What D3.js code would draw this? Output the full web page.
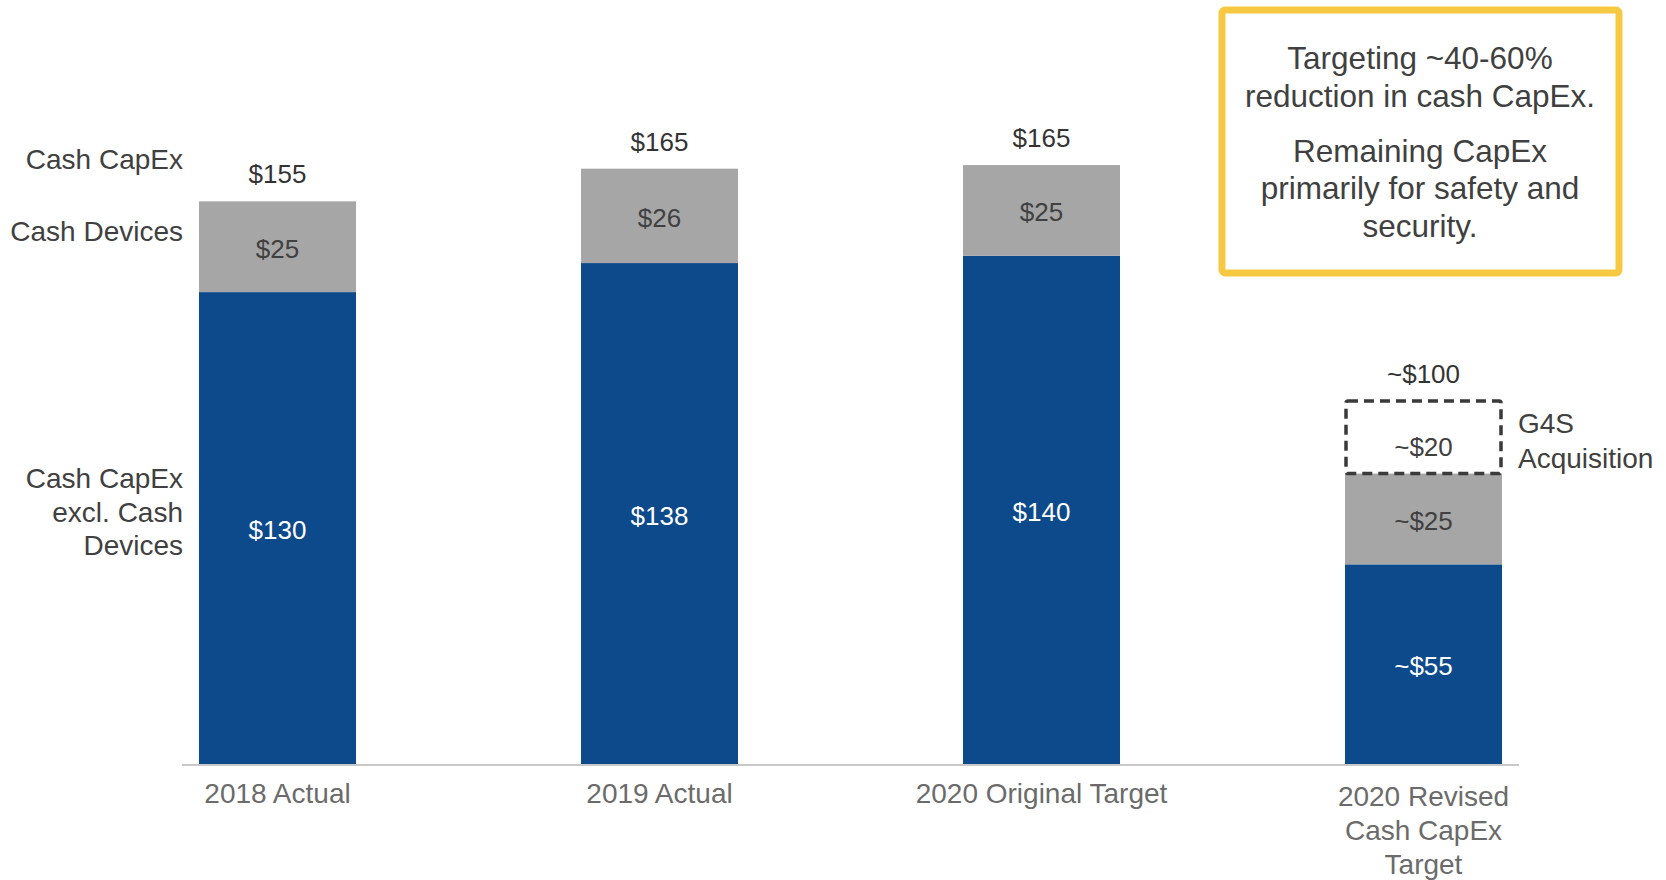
<!DOCTYPE html>
<html>
<head>
<meta charset="utf-8">
<script src="https://cdn.jsdelivr.net/npm/d3@7"></script>
<style>
  body { margin: 0; background: #fff; }
  text { font-family: "Liberation Sans", Arial, sans-serif; }
</style>
</head>
<body>
<div id="chart_area"></div>
<script>
// data
var categories = ["2018 Actual", "2019 Actual", "2020 Original Target", "2020 Revised Cash CapEx Target"];
var categoryLines = [["2018 Actual"], ["2019 Actual"], ["2020 Original Target"], ["2020 Revised", "Cash CapEx", "Target"]];
var exclDevices = [130, 138, 140, 55];
var cashDevices = [25, 26, 25, 25];
var g4sAcq = [0, 0, 0, 20];
var totalLabels = ["$155", "$165", "$165", "~$100"];
var exclLabels = ["$130", "$138", "$140", "~$55"];
var deviceLabels = ["$25", "$26", "$25", "~$25"];
var g4sLabels = ["", "", "", "~$20"];

//frame
var sFrameWidth = 1666;
var sFrameHeight = 880;
var sFrame = d3.select("#chart_area").append("svg")
  .attr("width", sFrameWidth)
  .attr("height", sFrameHeight);

var rows = categories.map(function (c, i) {
  return { cat: c, excl: exclDevices[i], dev: cashDevices[i], g4s: g4sAcq[i], i: i };
});
var stack = d3.stack().keys(["excl", "dev", "g4s"]);
var layers = stack(rows);

//scales
var x = d3.scaleBand().domain(categories).range([86.5, 1614.5]).paddingInner(0.589).paddingOuter(0.2945);
var y = d3.scaleLinear().domain([0, 200]).range([764, 38]);

var fills = { excl: "#0C4A8C", dev: "#A6A6A6" };

// solid segments
["excl", "dev"].forEach(function (k, li) {
  sFrame.append("g").selectAll("rect")
    .data(layers[li])
    .enter().append("rect")
    .attr("x", function (d) { return x(d.data.cat); })
    .attr("width", x.bandwidth())
    .attr("y", function (d) { return y(d[1]); })
    .attr("height", function (d) { return y(d[0]) - y(d[1]); })
    .attr("fill", fills[k]);
});

// dashed G4S box
sFrame.append("g").selectAll("rect")
  .data(layers[2].filter(function (d) { return d[1] > d[0]; }))
  .enter().append("rect")
  .attr("x", function (d) { return x(d.data.cat) + 1; })
  .attr("width", x.bandwidth() - 2)
  .attr("y", function (d) { return y(d[1]); })
  .attr("height", function (d) { return y(d[0]) - y(d[1]); })
  .attr("fill", "none")
  .attr("stroke", "#3a3a3a")
  .attr("stroke-width", 3.5)
  .attr("stroke-dasharray", "10,6")
  .attr("rx", 2);

// baseline
sFrame.append("line")
  .attr("x1", 182).attr("x2", 1519)
  .attr("y1", y(0) + 1).attr("y2", y(0) + 1)
  .attr("stroke", "#c8c8c8").attr("stroke-width", 2);

// segment labels
function segLabels(layer, labels, color, dy) {
  sFrame.append("g").selectAll("text")
    .data(layer)
    .enter().append("text")
    .attr("x", function (d) { return x(d.data.cat) + x.bandwidth() / 2; })
    .attr("y", function (d) { return (y(d[0]) + y(d[1])) / 2 + dy; })
    .attr("text-anchor", "middle")
    .attr("font-size", 26)
    .attr("fill", color)
    .text(function (d, i) { return labels[i]; });
}
segLabels(layers[0], exclLabels, "#ffffff", 11);
segLabels(layers[1], deviceLabels, "#404040", 11);
segLabels(layers[2], g4sLabels, "#404040", 19);

// totals
sFrame.append("g").selectAll("text")
  .data(layers[2])
  .enter().append("text")
  .attr("x", function (d) { return x(d.data.cat) + x.bandwidth() / 2; })
  .attr("y", function (d) { return y(d[1]) - 18; })
  .attr("text-anchor", "middle")
  .attr("font-size", 26)
  .attr("fill", "#333333")
  .text(function (d, i) { return totalLabels[i]; });

// category labels
var catG = sFrame.append("g").selectAll("text")
  .data(categories)
  .enter().append("text")
  .attr("x", function (d) { return x(d) + x.bandwidth() / 2; })
  .attr("y", 803)
  .attr("text-anchor", "middle")
  .attr("font-size", 28)
  .attr("fill", "#6b6b6b");
catG.each(function (d, i) {
  var t = d3.select(this);
  categoryLines[i].forEach(function (line, j) {
    t.append("tspan")
      .attr("x", x(d) + x.bandwidth() / 2)
      .attr("dy", j === 0 ? (categoryLines[i].length > 1 ? 3 : 0) : 34)
      .text(line);
  });
});

// left series labels
var leftX = 183;
var leftLabels = [
  { lines: ["Cash CapEx"], y: y(164) },
  { lines: ["Cash Devices"], y: y(144) },
  { lines: ["Cash CapEx", "excl. Cash", "Devices"], y: y(76) }
];
leftLabels.forEach(function (l) {
  var t = sFrame.append("text")
    .attr("x", leftX).attr("y", l.y)
    .attr("text-anchor", "end")
    .attr("font-size", 28)
    .attr("fill", "#404040");
  l.lines.forEach(function (line, j) {
    t.append("tspan").attr("x", leftX).attr("dy", j === 0 ? 0 : 33.5).text(line);
  });
});

// G4S label
var g4sLast = layers[2][3];
var gT = sFrame.append("text")
  .attr("x", 1518)
  .attr("y", y(g4sLast[1]) + 32)
  .attr("font-size", 28)
  .attr("fill", "#404040");
["G4S", "Acquisition"].forEach(function (line, j) {
  gT.append("tspan").attr("x", 1518).attr("dy", j === 0 ? 0 : 35).text(line);
});

// callout box
sFrame.append("rect")
  .attr("x", 1222).attr("y", 10)
  .attr("width", 397).attr("height", 263)
  .attr("rx", 3)
  .attr("fill", "#ffffff")
  .attr("stroke", "#F7C943")
  .attr("stroke-width", 7);

var boxLines = [
  { t: "Targeting ~40-60%", y: 69 },
  { t: "reduction in cash CapEx.", y: 107 },
  { t: "Remaining CapEx", y: 162 },
  { t: "primarily for safety and", y: 199 },
  { t: "security.", y: 237 }
];
sFrame.append("g").selectAll("text")
  .data(boxLines)
  .enter().append("text")
  .attr("x", 1420)
  .attr("y", function (d) { return d.y; })
  .attr("text-anchor", "middle")
  .attr("font-size", 31.5)
  .attr("fill", "#404040")
  .text(function (d) { return d.t; });
</script>
</body>
</html>
